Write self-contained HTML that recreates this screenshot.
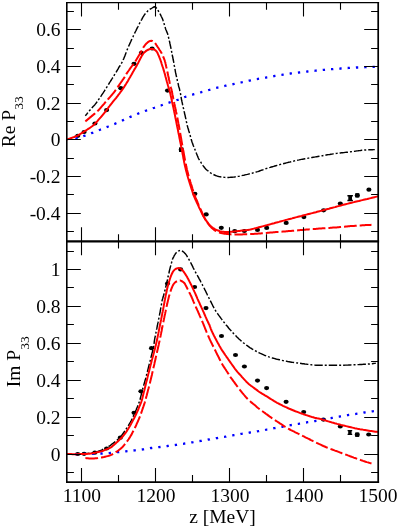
<!DOCTYPE html><html><head><meta charset="utf-8"><title>P33</title>
<style>html,body{margin:0;padding:0;background:#fff}svg{display:block}text{font-family:"Liberation Serif",serif;fill:#000}</style></head><body>
<svg width="399" height="527" viewBox="0 0 399 527">
<rect width="399" height="527" fill="#fff"/>
<defs><clipPath id="c1"><rect x="67.0" y="2.5" width="311.0" height="238.8"/></clipPath>
<clipPath id="c2"><rect x="67.0" y="241.3" width="311.0" height="240.7"/></clipPath></defs>
<g fill="#000" stroke="none">
<ellipse cx="77.8" cy="135.8" rx="2.55" ry="2.1"/>
<ellipse cx="84.1" cy="132.0" rx="2.55" ry="2.1"/>
<ellipse cx="94.9" cy="123.5" rx="2.55" ry="2.1"/>
<ellipse cx="106.6" cy="110.1" rx="2.55" ry="2.1"/>
<ellipse cx="120.8" cy="88.2" rx="2.55" ry="2.1"/>
<ellipse cx="134.0" cy="63.8" rx="2.55" ry="2.1"/>
<ellipse cx="141.4" cy="52.8" rx="2.55" ry="2.1"/>
<ellipse cx="152.1" cy="48.5" rx="2.55" ry="2.1"/>
<ellipse cx="167.5" cy="90.6" rx="2.55" ry="2.1"/>
<rect x="179.0" y="147.4" width="4.4" height="4.6"/>
<ellipse cx="181.2" cy="149.7" rx="2.55" ry="2.1"/>
<ellipse cx="194.9" cy="193.8" rx="2.55" ry="2.1"/>
<ellipse cx="206.2" cy="214.4" rx="2.55" ry="2.1"/>
<ellipse cx="221.3" cy="227.8" rx="2.55" ry="2.1"/>
<ellipse cx="234.7" cy="231.2" rx="2.55" ry="2.1"/>
<ellipse cx="244.4" cy="231.0" rx="2.55" ry="2.1"/>
<ellipse cx="257.5" cy="229.9" rx="2.55" ry="2.1"/>
<ellipse cx="266.7" cy="227.9" rx="2.55" ry="2.1"/>
<ellipse cx="286.2" cy="222.9" rx="2.55" ry="2.1"/>
<ellipse cx="303.9" cy="217.1" rx="2.55" ry="2.1"/>
<ellipse cx="323.6" cy="210.3" rx="2.55" ry="2.1"/>
<ellipse cx="340.3" cy="203.6" rx="2.55" ry="2.1"/>
<path d="M347.4 195.0h5.5v1.4h-0.9v3.4h0.9v1.4h-5.5v-1.4h0.9v-3.4h-0.9z"/>
<rect x="355.3" y="193.2" width="4.0" height="4.3"/>
<ellipse cx="357.3" cy="195.4" rx="2.55" ry="2.1"/>
<ellipse cx="368.9" cy="189.7" rx="2.55" ry="2.1"/>
</g>
<g clip-path="url(#c1)" fill="none" stroke-linejoin="round">
<path d="M75.4 138.8 L76.1 138.5 L76.8 138.2 L77.6 137.9 L78.3 137.7 L79.0 137.5 L79.8 137.2 L80.5 137.0 L81.3 136.8 L82.0 136.6 L82.8 136.4 L83.5 136.1 L84.2 135.8 L85.0 135.6 L85.7 135.3 L86.4 135.0 L87.2 134.8 L87.9 134.5 L88.6 134.2 L89.4 134.0 L90.1 133.7 L90.8 133.4 L91.5 133.1 L92.3 132.8 L93.0 132.6 L93.7 132.3 L94.4 132.0 L95.2 131.7 L95.9 131.4 L96.6 131.1 L97.3 130.9 L98.1 130.6 L98.8 130.3 L99.5 130.0 L100.2 129.7 L100.9 129.4 L101.7 129.1 L102.4 128.8 L103.1 128.6 L103.8 128.3 L104.6 128.0 L105.3 127.7 L106.0 127.4 L106.7 127.1 L107.4 126.8 L108.2 126.5 L108.9 126.2 L109.6 126.0 L110.3 125.7 L111.1 125.4 L111.8 125.1 L112.5 124.8 L113.2 124.5 L113.9 124.2 L114.7 123.9 L115.4 123.6 L116.1 123.3 L116.8 123.0 L117.5 122.7 L118.2 122.4 L118.9 122.1 L119.7 121.7 L120.4 121.4 L121.1 121.1 L121.8 120.8 L122.5 120.4 L123.2 120.1 L123.9 119.8 L124.6 119.4 L125.3 119.1 L126.0 118.8 L126.7 118.5 L127.4 118.1 L128.1 117.8 L128.8 117.5 L129.5 117.2 L130.3 116.9 L131.0 116.6 L131.7 116.3 L132.4 116.0 L133.1 115.7 L133.8 115.4 L134.6 115.1 L135.3 114.8 L136.0 114.5 L136.7 114.2 L137.4 113.9 L138.2 113.6 L138.9 113.3 L139.6 113.0 L140.3 112.7 L141.1 112.4 L141.8 112.2 L142.5 111.9 L143.2 111.6 L144.0 111.4 L144.7 111.1 L145.4 110.8 L146.2 110.6 L146.9 110.3 L147.6 110.1 L148.4 109.8 L149.1 109.6 L149.8 109.3 L150.6 109.1 L151.3 108.8 L152.1 108.5 L152.8 108.3 L153.5 108.0 L154.3 107.8 L155.0 107.5 L155.7 107.3 L156.5 107.0 L157.2 106.8 L157.9 106.5 L158.7 106.2 L159.4 106.0 L160.1 105.7 L160.9 105.5 L161.6 105.2 L162.3 105.0 L163.1 104.7 L163.8 104.4 L164.5 104.2 L165.3 103.9 L166.0 103.7 L166.7 103.4 L167.5 103.2 L168.2 102.9 L168.9 102.7 L169.7 102.4 L170.4 102.2 L171.2 101.9 L171.9 101.7 L172.6 101.4 L173.4 101.2 L174.1 101.0 L174.9 100.7 L175.6 100.5 L176.4 100.3 L177.1 100.0 L177.8 99.8 L178.6 99.5 L179.3 99.2 L180.0 99.0 L180.7 98.7 L181.4 98.4 L182.2 98.1 L182.9 97.8 L183.6 97.5 L184.3 97.2 L185.1 97.0 L185.8 96.7 L186.6 96.5 L187.3 96.2 L188.0 96.0 L188.8 95.8 L189.5 95.5 L190.3 95.3 L191.0 95.1 L191.8 94.9 L192.5 94.7 L193.3 94.4 L194.0 94.2 L194.7 94.0 L195.5 93.8 L196.2 93.6 L197.0 93.4 L197.7 93.1 L198.5 92.9 L199.2 92.7 L200.0 92.5 L200.7 92.3 L201.5 92.1 L202.2 91.9 L203.0 91.7 L203.7 91.4 L204.5 91.2 L205.2 91.0 L206.0 90.8 L206.7 90.6 L207.5 90.4 L208.2 90.2 L209.0 90.0 L209.7 89.8 L210.5 89.6 L211.2 89.4 L212.0 89.2 L212.7 89.0 L213.5 88.8 L214.2 88.5 L215.0 88.3 L215.7 88.1 L216.5 87.9 L217.2 87.7 L218.0 87.5 L218.7 87.4 L219.5 87.2 L220.2 87.0 L221.0 86.8 L221.8 86.6 L222.5 86.4 L223.3 86.2 L224.0 86.1 L224.8 85.9 L225.5 85.7 L226.3 85.6 L227.1 85.4 L227.8 85.3 L228.6 85.1 L229.4 84.9 L230.1 84.8 L230.9 84.6 L231.6 84.4 L232.4 84.3 L233.2 84.1 L233.9 84.0 L234.7 83.8 L235.4 83.6 L236.2 83.5 L237.0 83.3 L237.7 83.2 L238.5 83.0 L239.2 82.8 L240.0 82.7 L240.8 82.5 L241.5 82.3 L242.3 82.2 L243.0 82.0 L243.8 81.9 L244.6 81.7 L245.3 81.5 L246.1 81.4 L246.8 81.2 L247.6 81.0 L248.4 80.9 L249.1 80.7 L249.9 80.5 L250.6 80.4 L251.4 80.2 L252.2 80.0 L252.9 79.9 L253.7 79.7 L254.5 79.6 L255.2 79.4 L256.0 79.3 L256.7 79.1 L257.5 79.0 L258.3 78.8 L259.0 78.7 L259.8 78.6 L260.6 78.5 L261.3 78.3 L262.1 78.2 L262.9 78.1 L263.6 77.9 L264.4 77.8 L265.2 77.7 L266.0 77.6 L266.7 77.4 L267.5 77.3 L268.2 77.1 L269.0 77.0 L269.8 76.8 L270.5 76.7 L271.3 76.6 L272.1 76.4 L272.8 76.3 L273.6 76.2 L274.4 76.0 L275.1 75.9 L275.9 75.8 L276.7 75.7 L277.4 75.5 L278.2 75.4 L279.0 75.3 L279.7 75.2 L280.5 75.1 L281.3 74.9 L282.1 74.8 L282.8 74.7 L283.6 74.6 L284.4 74.5 L285.1 74.3 L285.9 74.2 L286.7 74.1 L287.4 74.0 L288.2 73.9 L289.0 73.7 L289.7 73.6 L290.5 73.5 L291.3 73.4 L292.1 73.3 L292.8 73.2 L293.6 73.1 L294.4 73.1 L295.1 73.0 L295.9 72.9 L296.7 72.8 L297.5 72.7 L298.2 72.6 L299.0 72.5 L299.8 72.4 L300.6 72.3 L301.3 72.2 L302.1 72.2 L302.9 72.1 L303.6 72.0 L304.4 71.9 L305.2 71.8 L306.0 71.7 L306.7 71.6 L307.5 71.5 L308.3 71.4 L309.1 71.3 L309.8 71.2 L310.6 71.2 L311.4 71.1 L312.1 71.0 L312.9 70.9 L313.7 70.8 L314.5 70.8 L315.2 70.7 L316.0 70.6 L316.8 70.5 L317.6 70.4 L318.3 70.4 L319.1 70.3 L319.9 70.2 L320.7 70.1 L321.4 70.1 L322.2 70.0 L323.0 69.9 L323.8 69.9 L324.5 69.8 L325.3 69.7 L326.1 69.6 L326.9 69.6 L327.6 69.5 L328.4 69.4 L329.2 69.4 L330.0 69.3 L330.7 69.2 L331.5 69.2 L332.3 69.1 L333.1 69.1 L333.8 69.0 L334.6 68.9 L335.4 68.9 L336.2 68.8 L336.9 68.8 L337.7 68.7 L338.5 68.7 L339.3 68.6 L340.0 68.6 L340.8 68.5 L341.6 68.4 L342.4 68.4 L343.1 68.3 L343.9 68.3 L344.7 68.2 L345.5 68.2 L346.2 68.1 L347.0 68.0 L347.8 68.0 L348.6 67.9 L349.4 67.9 L350.1 67.8 L350.9 67.8 L351.7 67.7 L352.5 67.7 L353.2 67.7 L354.0 67.6 L354.8 67.6 L355.6 67.6 L356.3 67.5 L357.1 67.5 L357.9 67.5 L358.7 67.5 L359.5 67.4 L360.2 67.4 L361.0 67.4 L361.8 67.3 L362.6 67.3 L363.3 67.3 L364.1 67.3 L364.9 67.2 L365.7 67.2 L366.5 67.2 L367.2 67.1 L368.0 67.1 L368.8 67.1 L369.6 67.0 L370.3 67.0 L371.1 67.0 L371.9 66.9 L372.7 66.9 L373.4 66.9 L374.2 66.8 L375.0 66.8" stroke="#00f" stroke-width="2.3" stroke-dasharray="2.3 6.035"/>
<path d="M85.4 115.8 L86.1 114.8 L86.9 113.9 L87.6 112.9 L88.4 112.0 L89.2 111.1 L89.9 110.2 L90.7 109.3 L91.5 108.4 L92.3 107.5 L93.1 106.6 L93.9 105.8 L94.7 104.9 L95.5 103.9 L96.2 103.0 L96.9 102.0 L97.6 101.0 L98.3 100.0 L98.9 99.1 L99.6 98.1 L100.3 97.1 L101.0 96.1 L101.6 95.1 L102.3 94.1 L103.0 93.1 L103.6 92.1 L104.3 91.1 L104.9 90.1 L105.6 89.1 L106.2 88.1 L106.8 87.1 L107.5 86.1 L108.1 85.1 L108.7 84.1 L109.4 83.0 L110.0 82.0 L110.6 81.0 L111.3 80.0 L111.9 79.0 L112.5 78.0 L113.2 77.0 L113.8 75.9 L114.4 74.9 L115.1 73.9 L115.7 72.9 L116.3 71.9 L116.9 70.8 L117.5 69.8 L118.1 68.8 L118.7 67.7 L119.3 66.7 L120.0 65.8 L120.7 64.7 L121.2 63.7 L121.8 62.7 L122.4 61.6 L122.9 60.5 L123.4 59.4 L123.9 58.3 L124.3 57.2 L124.8 56.1 L125.2 55.0 L125.6 53.9 L126.0 52.8 L126.4 51.6 L126.9 50.5 L127.3 49.4 L127.8 48.3 L128.3 47.2 L128.7 46.1 L129.2 45.0 L129.7 43.9 L130.2 42.8 L130.7 41.8 L131.1 40.7 L131.6 39.6 L132.1 38.5 L132.6 37.4 L133.2 36.3 L133.7 35.2 L134.2 34.2 L134.7 33.1 L135.2 32.0 L135.8 31.0 L136.3 29.9 L136.8 28.8 L137.4 27.7 L137.9 26.7 L138.4 25.6 L139.0 24.5 L139.5 23.5 L140.1 22.4 L140.6 21.4 L141.2 20.3 L141.8 19.3 L142.4 18.2 L142.9 17.2 L143.6 16.2 L144.2 15.2 L144.9 14.2 L145.7 13.3 L146.5 12.4 L147.3 11.5 L148.1 10.6 L149.1 9.9 L150.1 9.2 L151.1 8.6 L152.1 8.0 L153.2 7.3 L154.5 6.8 L155.5 7.0 L156.3 7.9 L157.1 8.9 L157.7 9.9 L158.3 10.9 L158.9 12.0 L159.5 13.0 L160.1 14.0 L160.7 15.1 L161.2 16.2 L161.7 17.2 L162.2 18.3 L162.7 19.4 L163.1 20.6 L163.5 21.7 L163.8 22.8 L164.2 24.0 L164.5 25.1 L164.8 26.3 L165.2 27.4 L165.5 28.5 L165.9 29.7 L166.4 30.8 L166.8 31.9 L167.3 33.0 L167.7 34.1 L168.0 35.3 L168.3 36.4 L168.6 37.6 L168.9 38.8 L169.2 39.9 L169.4 41.1 L169.7 42.2 L169.9 43.4 L170.2 44.6 L170.4 45.8 L170.7 46.9 L170.9 48.1 L171.2 49.3 L171.4 50.4 L171.6 51.6 L171.9 52.8 L172.1 53.9 L172.3 55.1 L172.5 56.3 L172.8 57.5 L173.0 58.6 L173.2 59.8 L173.5 61.0 L173.7 62.2 L173.9 63.3 L174.1 64.5 L174.3 65.7 L174.6 66.9 L174.8 68.0 L175.0 69.2 L175.2 70.4 L175.4 71.6 L175.6 72.7 L175.9 73.9 L176.1 75.1 L176.4 76.2 L176.6 77.4 L176.9 78.6 L177.2 79.7 L177.4 80.9 L177.7 82.1 L178.0 83.2 L178.3 84.4 L178.5 85.5 L178.8 86.7 L179.2 87.9 L179.5 89.0 L179.7 90.2 L180.0 91.3 L180.3 92.5 L180.5 93.7 L180.7 94.9 L180.9 96.0 L181.1 97.2 L181.3 98.4 L181.5 99.6 L181.8 100.7 L182.0 101.9 L182.3 103.1 L182.5 104.2 L182.8 105.4 L183.1 106.6 L183.3 107.7 L183.6 108.9 L183.9 110.1 L184.1 111.2 L184.4 112.4 L184.6 113.6 L184.9 114.7 L185.2 115.9 L185.4 117.1 L185.7 118.2 L185.9 119.4 L186.2 120.6 L186.4 121.7 L186.7 122.9 L187.0 124.1 L187.2 125.2 L187.5 126.4 L187.8 127.5 L188.2 128.7 L188.5 129.8 L188.8 131.0 L189.2 132.1 L189.5 133.3 L189.8 134.4 L190.2 135.6 L190.5 136.7 L190.8 137.9 L191.1 139.0 L191.5 140.2 L191.8 141.3 L192.2 142.5 L192.6 143.6 L193.0 144.7 L193.4 145.8 L193.9 146.9 L194.3 148.0 L194.8 149.1 L195.2 150.2 L195.6 151.4 L196.1 152.5 L196.5 153.6 L197.0 154.7 L197.4 155.8 L197.9 156.9 L198.3 158.0 L198.9 159.1 L199.5 160.1 L200.1 161.1 L200.8 162.1 L201.4 163.1 L202.1 164.1 L202.7 165.1 L203.4 166.1 L204.1 167.0 L204.9 168.0 L205.7 168.9 L206.5 169.7 L207.4 170.5 L208.4 171.2 L209.3 172.0 L210.3 172.7 L211.3 173.3 L212.4 173.9 L213.4 174.5 L214.5 175.0 L215.6 175.5 L216.7 175.9 L217.9 176.3 L219.0 176.6 L220.2 176.8 L221.4 177.1 L222.6 177.2 L223.7 177.3 L224.9 177.4 L226.1 177.5 L227.3 177.5 L228.5 177.5 L229.7 177.4 L230.9 177.3 L232.1 177.2 L233.3 177.1 L234.5 177.0 L235.7 176.8 L236.8 176.6 L238.0 176.4 L239.2 176.2 L240.4 175.9 L241.5 175.7 L242.7 175.4 L243.9 175.2 L245.0 174.9 L246.2 174.6 L247.4 174.4 L248.5 174.1 L249.7 173.8 L250.8 173.6 L252.0 173.3 L253.2 172.9 L254.3 172.6 L255.5 172.3 L256.6 171.9 L257.7 171.6 L258.9 171.2 L260.0 170.8 L261.1 170.4 L262.2 170.0 L263.4 169.6 L264.5 169.2 L265.6 168.8 L266.8 168.4 L267.9 168.1 L269.0 167.7 L270.2 167.4 L271.3 167.0 L272.5 166.7 L273.6 166.4 L274.8 166.0 L275.9 165.7 L277.1 165.4 L278.2 165.1 L279.4 164.7 L280.5 164.4 L281.7 164.1 L282.8 163.8 L284.0 163.5 L285.2 163.2 L286.3 162.9 L287.5 162.6 L288.6 162.3 L289.8 162.1 L291.0 161.8 L292.1 161.5 L293.3 161.2 L294.4 160.9 L295.6 160.6 L296.8 160.4 L297.9 160.1 L299.1 159.9 L300.3 159.6 L301.4 159.4 L302.6 159.2 L303.8 159.0 L305.0 158.8 L306.1 158.6 L307.3 158.4 L308.5 158.1 L309.7 157.9 L310.9 157.7 L312.0 157.5 L313.2 157.3 L314.4 157.1 L315.6 156.9 L316.7 156.7 L317.9 156.5 L319.1 156.3 L320.3 156.1 L321.4 155.9 L322.6 155.7 L323.8 155.5 L325.0 155.3 L326.2 155.0 L327.3 154.8 L328.5 154.6 L329.7 154.5 L330.9 154.3 L332.0 154.1 L333.2 153.9 L334.4 153.7 L335.6 153.6 L336.8 153.4 L338.0 153.3 L339.1 153.1 L340.3 153.0 L341.5 152.8 L342.7 152.7 L343.9 152.6 L345.1 152.4 L346.3 152.3 L347.5 152.2 L348.6 152.0 L349.8 151.9 L351.0 151.7 L352.2 151.6 L353.4 151.4 L354.6 151.3 L355.8 151.1 L356.9 150.9 L358.1 150.8 L359.3 150.6 L360.5 150.5 L361.7 150.3 L362.9 150.2 L364.1 150.1 L365.2 150.0 L366.4 149.9 L367.6 149.9 L368.8 149.8 L370.0 149.7 L371.2 149.7 L372.4 149.7 L373.6 149.6 L374.8 149.6" stroke="#000" stroke-width="1.45" stroke-dasharray="2 2 8.4 2" stroke-dashoffset="-6"/>
<path d="M85.4 121.4 L86.3 120.6 L87.2 119.9 L88.1 119.1 L89.0 118.4 L89.9 117.6 L90.8 116.9 L91.7 116.1 L92.6 115.4 L93.5 114.6 L94.4 113.9 L95.3 113.1 L96.2 112.4 L97.0 111.6 L97.9 110.8 L98.7 110.0 L99.5 109.1 L100.3 108.2 L101.0 107.3 L101.8 106.4 L102.5 105.5 L103.3 104.7 L104.1 103.8 L104.8 102.9 L105.6 102.0 L106.4 101.1 L107.2 100.3 L107.9 99.4 L108.7 98.5 L109.5 97.6 L110.2 96.8 L111.0 95.9 L111.8 95.0 L112.5 94.1 L113.3 93.2 L114.0 92.3 L114.7 91.4 L115.4 90.4 L116.1 89.5 L116.8 88.5 L117.4 87.5 L118.1 86.6 L118.7 85.6 L119.4 84.6 L120.0 83.7 L120.7 82.7 L121.4 81.7 L122.1 80.8 L122.7 79.8 L123.4 78.9 L124.1 77.9 L124.7 76.9 L125.3 75.9 L125.9 74.9 L126.4 73.9 L127.1 72.9 L127.7 71.9 L128.4 71.0 L129.1 70.0 L129.7 69.1 L130.4 68.1 L131.1 67.2 L131.8 66.2 L132.6 65.3 L133.3 64.4 L134.0 63.5 L134.6 62.5 L135.3 61.5 L135.9 60.5 L136.5 59.5 L137.1 58.5 L137.7 57.5 L138.3 56.5 L138.9 55.5 L139.5 54.5 L140.1 53.5 L140.7 52.5 L141.3 51.5 L141.8 50.4 L142.3 49.4 L142.8 48.3 L143.4 47.3 L144.1 46.4 L144.8 45.4 L145.5 44.5 L146.3 43.6 L147.1 42.9 L148.0 42.1 L149.1 41.4 L150.2 40.9 L151.3 40.7 L152.4 40.9 L153.5 41.5 L154.4 42.3 L155.1 43.2 L155.8 44.1 L156.4 45.1 L157.1 46.1 L157.7 47.1 L158.4 48.0 L159.0 49.0 L159.6 50.0 L160.3 51.0 L160.9 52.0 L161.5 53.0 L162.0 54.0 L162.5 55.1 L163.0 56.2 L163.4 57.3 L163.9 58.3 L164.3 59.4 L164.7 60.5 L165.0 61.6 L165.4 62.8 L165.6 63.9 L165.9 65.1 L166.1 66.2 L166.4 67.3 L166.6 68.5 L166.9 69.6 L167.1 70.8 L167.4 71.9 L167.6 73.1 L167.9 74.2 L168.1 75.3 L168.4 76.5 L168.6 77.6 L168.9 78.8 L169.1 79.9 L169.4 81.1 L169.6 82.2 L169.9 83.3 L170.2 84.5 L170.5 85.6 L170.8 86.7 L171.0 87.9 L171.3 89.0 L171.6 90.1 L171.8 91.3 L172.1 92.4 L172.3 93.6 L172.5 94.7 L172.8 95.9 L173.0 97.0 L173.2 98.2 L173.5 99.3 L173.7 100.4 L173.9 101.6 L174.2 102.7 L174.4 103.9 L174.7 105.0 L174.9 106.2 L175.2 107.3 L175.4 108.5 L175.6 109.6 L175.9 110.7 L176.1 111.9 L176.4 113.0 L176.6 114.2 L176.8 115.3 L177.1 116.5 L177.3 117.6 L177.5 118.8 L177.8 119.9 L178.0 121.1 L178.2 122.2 L178.4 123.4 L178.7 124.5 L178.9 125.7 L179.1 126.8 L179.3 128.0 L179.5 129.1 L179.7 130.3 L179.9 131.4 L180.1 132.6 L180.3 133.7 L180.5 134.9 L180.7 136.0 L180.9 137.2 L181.1 138.3 L181.3 139.5 L181.5 140.6 L181.7 141.8 L181.9 142.9 L182.1 144.1 L182.3 145.2 L182.5 146.4 L182.7 147.5 L182.9 148.7 L183.1 149.8 L183.4 151.0 L183.6 152.1 L183.8 153.3 L184.0 154.4 L184.2 155.6 L184.4 156.7 L184.6 157.9 L184.8 159.0 L185.0 160.2 L185.3 161.3 L185.5 162.5 L185.7 163.6 L185.9 164.8 L186.2 165.9 L186.4 167.1 L186.7 168.2 L186.9 169.4 L187.2 170.5 L187.5 171.6 L187.7 172.8 L188.0 173.9 L188.4 175.0 L188.7 176.1 L189.0 177.3 L189.3 178.4 L189.7 179.5 L190.0 180.6 L190.3 181.8 L190.7 182.9 L191.0 184.0 L191.4 185.1 L191.7 186.2 L192.1 187.3 L192.4 188.5 L192.8 189.6 L193.1 190.7 L193.5 191.8 L193.8 192.9 L194.2 194.0 L194.6 195.1 L195.0 196.2 L195.4 197.3 L195.9 198.4 L196.3 199.5 L196.8 200.5 L197.3 201.6 L197.7 202.7 L198.2 203.8 L198.6 204.8 L199.1 205.9 L199.6 207.0 L200.0 208.1 L200.5 209.1 L201.0 210.2 L201.4 211.3 L201.9 212.3 L202.4 213.4 L202.9 214.5 L203.3 215.6 L203.8 216.6 L204.4 217.6 L204.9 218.7 L205.5 219.7 L206.2 220.7 L206.8 221.6 L207.5 222.6 L208.1 223.6 L208.8 224.5 L209.5 225.5 L210.3 226.3 L211.1 227.2 L211.9 228.0 L212.8 228.8 L213.7 229.6 L214.7 230.3 L215.7 230.9 L216.7 231.4 L217.8 231.9 L218.9 232.3 L220.0 232.7 L221.1 233.0 L222.3 233.3 L223.4 233.5 L224.6 233.7 L225.7 233.8 L226.9 234.0 L228.0 234.1 L229.2 234.2 L230.4 234.3 L231.5 234.4 L232.7 234.5 L233.9 234.6 L235.0 234.6 L236.2 234.6 L237.4 234.5 L238.5 234.5 L239.7 234.5 L240.9 234.4 L242.1 234.4 L243.2 234.3 L244.4 234.3 L245.6 234.2 L246.7 234.2 L247.9 234.2 L249.1 234.1 L250.2 234.1 L251.4 234.0 L252.6 234.0 L253.7 233.9 L254.9 233.8 L256.1 233.8 L257.2 233.7 L258.4 233.6 L259.6 233.5 L260.7 233.4 L261.9 233.3 L263.1 233.2 L264.2 233.1 L265.4 233.0 L266.6 232.9 L267.7 232.8 L268.9 232.7 L270.1 232.6 L271.2 232.5 L272.4 232.4 L273.6 232.3 L274.7 232.2 L275.9 232.1 L277.1 232.0 L278.2 231.9 L279.4 231.9 L280.6 231.8 L281.7 231.7 L282.9 231.6 L284.0 231.5 L285.2 231.4 L286.4 231.3 L287.5 231.2 L288.7 231.1 L289.9 231.0 L291.0 230.9 L292.2 230.8 L293.4 230.7 L294.5 230.6 L295.7 230.5 L296.9 230.4 L298.0 230.3 L299.2 230.2 L300.4 230.1 L301.5 230.0 L302.7 229.9 L303.9 229.8 L305.0 229.7 L306.2 229.6 L307.4 229.5 L308.5 229.4 L309.7 229.3 L310.9 229.2 L312.0 229.1 L313.2 229.1 L314.3 229.0 L315.5 228.9 L316.7 228.8 L317.8 228.7 L319.0 228.6 L320.2 228.5 L321.3 228.4 L322.5 228.3 L323.7 228.3 L324.8 228.2 L326.0 228.1 L327.2 228.0 L328.3 227.9 L329.5 227.9 L330.7 227.8 L331.8 227.7 L333.0 227.6 L334.2 227.5 L335.3 227.4 L336.5 227.4 L337.7 227.3 L338.8 227.2 L340.0 227.1 L341.2 227.0 L342.3 226.9 L343.5 226.8 L344.7 226.7 L345.8 226.5 L347.0 226.4 L348.2 226.3 L349.3 226.2 L350.5 226.1 L351.7 226.0 L352.8 226.0 L354.0 225.9 L355.2 225.8 L356.3 225.7 L357.5 225.6 L358.7 225.5 L359.8 225.5 L361.0 225.4 L362.2 225.3 L363.3 225.2 L364.5 225.2 L365.7 225.1 L366.8 225.0 L368.0 225.0 L369.2 224.9 L370.3 224.9 L371.5 224.8" stroke="#f00" stroke-width="2.0" stroke-dasharray="12.7 3.0"/>
<path d="M66.0 139.7 L67.2 139.3 L68.4 139.0 L69.5 138.6 L70.7 138.2 L71.9 137.8 L73.0 137.4 L74.2 137.0 L75.3 136.5 L76.5 136.1 L77.6 135.6 L78.7 135.0 L79.7 134.3 L80.8 133.7 L81.8 133.0 L82.9 132.4 L83.9 131.7 L84.9 131.0 L86.0 130.4 L87.0 129.7 L88.0 129.0 L89.1 128.4 L90.1 127.7 L91.1 127.0 L92.1 126.3 L93.1 125.5 L94.0 124.7 L94.9 123.8 L95.7 122.9 L96.6 122.0 L97.4 121.1 L98.2 120.1 L99.0 119.2 L99.8 118.3 L100.7 117.4 L101.5 116.4 L102.3 115.5 L103.0 114.6 L103.8 113.6 L104.6 112.6 L105.4 111.7 L106.1 110.7 L106.9 109.7 L107.6 108.7 L108.3 107.7 L109.1 106.7 L109.8 105.7 L110.5 104.8 L111.3 103.8 L112.1 102.8 L112.8 101.9 L113.6 100.9 L114.4 100.0 L115.2 99.0 L116.0 98.1 L116.7 97.1 L117.5 96.1 L118.2 95.1 L119.0 94.2 L119.7 93.2 L120.4 92.2 L121.2 91.2 L121.9 90.2 L122.6 89.2 L123.3 88.2 L124.0 87.1 L124.7 86.1 L125.3 85.1 L126.0 84.0 L126.6 83.0 L127.3 81.9 L127.9 80.9 L128.5 79.8 L129.1 78.7 L129.7 77.7 L130.4 76.6 L131.0 75.5 L131.6 74.5 L132.2 73.4 L132.8 72.3 L133.4 71.3 L134.0 70.2 L134.6 69.1 L135.3 68.1 L135.9 67.0 L136.5 65.9 L137.1 64.8 L137.7 63.8 L138.3 62.7 L138.8 61.6 L139.4 60.5 L139.9 59.4 L140.5 58.3 L141.1 57.2 L141.7 56.1 L142.3 55.1 L143.0 54.0 L143.7 53.0 L144.6 52.2 L145.5 51.4 L146.5 50.6 L147.6 50.0 L148.7 49.5 L149.9 49.1 L151.2 49.0 L152.4 49.0 L153.6 49.3 L154.7 49.8 L155.8 50.6 L156.6 51.5 L157.3 52.5 L157.8 53.7 L158.3 54.8 L158.8 55.9 L159.3 57.1 L159.7 58.2 L160.2 59.4 L160.6 60.5 L161.0 61.7 L161.4 62.8 L161.7 64.0 L162.1 65.2 L162.5 66.4 L162.9 67.5 L163.3 68.7 L163.6 69.9 L164.0 71.1 L164.3 72.2 L164.7 73.4 L165.0 74.6 L165.3 75.8 L165.6 77.0 L166.0 78.2 L166.3 79.4 L166.6 80.6 L166.9 81.7 L167.3 82.9 L167.6 84.1 L167.9 85.3 L168.3 86.5 L168.6 87.7 L169.0 88.8 L169.3 90.0 L169.7 91.2 L170.0 92.4 L170.3 93.6 L170.6 94.8 L170.8 96.0 L171.1 97.2 L171.4 98.4 L171.6 99.6 L171.9 100.8 L172.1 102.0 L172.4 103.2 L172.7 104.4 L172.9 105.6 L173.2 106.8 L173.5 108.0 L173.7 109.2 L174.0 110.5 L174.2 111.7 L174.5 112.9 L174.7 114.1 L175.0 115.3 L175.2 116.5 L175.4 117.7 L175.7 118.9 L175.9 120.1 L176.2 121.3 L176.4 122.5 L176.6 123.7 L176.9 124.9 L177.1 126.2 L177.4 127.4 L177.6 128.6 L177.9 129.8 L178.1 131.0 L178.3 132.2 L178.6 133.4 L178.8 134.6 L179.1 135.8 L179.3 137.0 L179.5 138.2 L179.8 139.4 L180.0 140.7 L180.3 141.9 L180.5 143.1 L180.8 144.3 L181.0 145.5 L181.2 146.7 L181.5 147.9 L181.7 149.1 L182.0 150.3 L182.2 151.5 L182.4 152.7 L182.6 154.0 L182.9 155.2 L183.1 156.4 L183.3 157.6 L183.5 158.8 L183.8 160.0 L184.0 161.2 L184.2 162.4 L184.5 163.6 L184.7 164.8 L185.0 166.0 L185.3 167.2 L185.6 168.4 L185.8 169.6 L186.1 170.8 L186.5 172.0 L186.8 173.2 L187.1 174.4 L187.4 175.6 L187.8 176.8 L188.1 178.0 L188.5 179.1 L188.8 180.3 L189.2 181.5 L189.6 182.7 L189.9 183.8 L190.3 185.0 L190.7 186.2 L191.1 187.4 L191.4 188.5 L191.8 189.7 L192.2 190.9 L192.6 192.1 L192.9 193.2 L193.3 194.4 L193.7 195.6 L194.2 196.7 L194.7 197.9 L195.2 199.0 L195.7 200.1 L196.2 201.2 L196.7 202.3 L197.2 203.4 L197.8 204.6 L198.3 205.7 L198.8 206.8 L199.3 207.9 L199.9 209.0 L200.4 210.1 L200.9 211.2 L201.5 212.4 L202.0 213.5 L202.5 214.6 L203.1 215.7 L203.7 216.7 L204.3 217.8 L205.0 218.8 L205.7 219.9 L206.4 220.9 L207.1 221.9 L207.8 222.9 L208.6 223.9 L209.4 224.8 L210.2 225.7 L211.2 226.5 L212.1 227.3 L213.1 228.1 L214.2 228.7 L215.2 229.3 L216.4 229.8 L217.5 230.3 L218.7 230.7 L219.8 231.1 L221.0 231.4 L222.2 231.7 L223.5 231.8 L224.7 232.0 L225.9 232.0 L227.2 232.1 L228.4 232.0 L229.6 231.9 L230.8 231.8 L232.1 231.7 L233.3 231.6 L234.5 231.4 L235.7 231.3 L237.0 231.2 L238.2 231.0 L239.4 230.9 L240.6 230.7 L241.9 230.6 L243.1 230.5 L244.3 230.4 L245.5 230.2 L246.8 230.1 L248.0 229.9 L249.2 229.7 L250.4 229.5 L251.6 229.2 L252.8 228.9 L254.0 228.6 L255.2 228.3 L256.4 228.0 L257.6 227.6 L258.8 227.3 L260.0 227.0 L261.2 226.7 L262.4 226.4 L263.5 226.1 L264.7 225.8 L265.9 225.4 L267.1 225.1 L268.3 224.8 L269.5 224.5 L270.7 224.1 L271.9 223.8 L273.0 223.5 L274.2 223.2 L275.4 222.8 L276.6 222.5 L277.8 222.2 L279.0 221.9 L280.2 221.5 L281.4 221.2 L282.6 220.9 L283.7 220.6 L284.9 220.3 L286.1 219.9 L287.3 219.6 L288.5 219.3 L289.7 219.0 L290.9 218.7 L292.1 218.4 L293.3 218.0 L294.5 217.7 L295.7 217.4 L296.8 217.1 L298.0 216.8 L299.2 216.5 L300.4 216.2 L301.6 215.9 L302.8 215.5 L304.0 215.2 L305.2 214.9 L306.4 214.6 L307.6 214.3 L308.8 214.0 L310.0 213.7 L311.2 213.4 L312.4 213.1 L313.5 212.8 L314.7 212.5 L315.9 212.2 L317.1 211.8 L318.3 211.5 L319.5 211.2 L320.7 210.9 L321.9 210.6 L323.1 210.3 L324.3 209.9 L325.5 209.6 L326.6 209.3 L327.8 209.0 L329.0 208.7 L330.2 208.3 L331.4 208.0 L332.6 207.7 L333.8 207.4 L335.0 207.1 L336.2 206.7 L337.4 206.4 L338.5 206.1 L339.7 205.8 L340.9 205.5 L342.1 205.1 L343.3 204.8 L344.5 204.5 L345.7 204.2 L346.9 203.9 L348.1 203.6 L349.3 203.3 L350.5 203.0 L351.7 202.7 L352.9 202.4 L354.1 202.1 L355.2 201.8 L356.4 201.5 L357.6 201.2 L358.8 201.0 L360.0 200.7 L361.2 200.4 L362.4 200.1 L363.6 199.8 L364.8 199.5 L366.0 199.2 L367.2 199.0 L368.4 198.7 L369.6 198.4 L370.8 198.1 L372.0 197.8 L373.2 197.5 L374.4 197.2 L375.6 196.9 L376.8 196.6 L378.0 196.3" stroke="#f00" stroke-width="2.0"/>
</g>
<g fill="#000" stroke="none">
<ellipse cx="77.7" cy="454.0" rx="2.55" ry="2.1"/>
<ellipse cx="84.1" cy="453.8" rx="2.55" ry="2.1"/>
<ellipse cx="94.8" cy="452.7" rx="2.55" ry="2.1"/>
<ellipse cx="106.6" cy="448.5" rx="2.55" ry="2.1"/>
<ellipse cx="120.3" cy="437.7" rx="2.55" ry="2.1"/>
<ellipse cx="134.0" cy="412.8" rx="2.55" ry="2.1"/>
<ellipse cx="140.9" cy="391.3" rx="2.55" ry="2.1"/>
<ellipse cx="151.5" cy="348.2" rx="2.55" ry="2.1"/>
<ellipse cx="167.5" cy="283.5" rx="2.55" ry="2.1"/>
<ellipse cx="180.6" cy="269.4" rx="2.55" ry="2.1"/>
<ellipse cx="194.6" cy="287.0" rx="2.55" ry="2.1"/>
<ellipse cx="206.0" cy="308.1" rx="2.55" ry="2.1"/>
<ellipse cx="221.5" cy="336.0" rx="2.55" ry="2.1"/>
<ellipse cx="235.5" cy="355.0" rx="2.55" ry="2.1"/>
<ellipse cx="244.4" cy="366.5" rx="2.55" ry="2.1"/>
<ellipse cx="257.5" cy="380.6" rx="2.55" ry="2.1"/>
<ellipse cx="266.6" cy="388.1" rx="2.55" ry="2.1"/>
<ellipse cx="286.1" cy="401.8" rx="2.55" ry="2.1"/>
<ellipse cx="303.7" cy="412.0" rx="2.55" ry="2.1"/>
<ellipse cx="323.4" cy="419.6" rx="2.55" ry="2.1"/>
<ellipse cx="340.3" cy="426.5" rx="2.55" ry="2.1"/>
<path d="M347.6 429.9h4.6v1.4h-0.6v2.4h0.6v1.4h-4.6v-1.4h0.6v-2.4h-0.6z"/>
<rect x="355.2" y="432.5" width="4.0" height="4.4"/>
<ellipse cx="357.2" cy="434.7" rx="2.55" ry="2.1"/>
<ellipse cx="368.7" cy="434.5" rx="2.55" ry="2.1"/>
</g>
<g clip-path="url(#c2)" fill="none" stroke-linejoin="round">
<path d="M75.4 454.1 L76.2 454.1 L76.9 454.1 L77.7 454.1 L78.4 454.1 L79.2 454.0 L80.0 454.0 L80.7 454.0 L81.5 454.0 L82.2 454.0 L83.0 454.0 L83.8 454.0 L84.5 453.9 L85.3 453.9 L86.0 453.9 L86.8 453.9 L87.5 453.9 L88.3 453.9 L89.1 453.8 L89.8 453.8 L90.6 453.8 L91.3 453.8 L92.1 453.8 L92.9 453.8 L93.6 453.7 L94.4 453.7 L95.1 453.7 L95.9 453.7 L96.7 453.6 L97.4 453.6 L98.2 453.6 L98.9 453.6 L99.7 453.5 L100.5 453.5 L101.2 453.5 L102.0 453.5 L102.7 453.4 L103.5 453.4 L104.2 453.4 L105.0 453.4 L105.8 453.3 L106.5 453.3 L107.3 453.2 L108.0 453.2 L108.8 453.1 L109.6 453.1 L110.3 453.0 L111.1 452.9 L111.8 452.8 L112.6 452.7 L113.3 452.6 L114.1 452.6 L114.8 452.5 L115.6 452.4 L116.3 452.3 L117.1 452.2 L117.9 452.1 L118.6 452.1 L119.4 452.0 L120.1 451.9 L120.9 451.8 L121.6 451.7 L122.4 451.7 L123.1 451.6 L123.9 451.5 L124.7 451.4 L125.4 451.3 L126.2 451.3 L126.9 451.2 L127.7 451.1 L128.4 451.0 L129.2 451.0 L129.9 450.9 L130.7 450.8 L131.5 450.7 L132.2 450.6 L133.0 450.6 L133.7 450.5 L134.5 450.4 L135.2 450.3 L136.0 450.2 L136.7 450.1 L137.5 450.0 L138.2 450.0 L139.0 449.9 L139.8 449.8 L140.5 449.7 L141.3 449.6 L142.0 449.5 L142.8 449.4 L143.5 449.3 L144.3 449.1 L145.0 449.0 L145.8 448.9 L146.5 448.8 L147.3 448.6 L148.0 448.5 L148.8 448.4 L149.5 448.3 L150.3 448.1 L151.0 448.0 L151.8 448.0 L152.5 447.9 L153.3 447.8 L154.0 447.7 L154.8 447.6 L155.5 447.5 L156.3 447.4 L157.0 447.3 L157.8 447.2 L158.6 447.1 L159.3 447.1 L160.1 447.0 L160.8 446.9 L161.6 446.8 L162.3 446.7 L163.1 446.6 L163.8 446.5 L164.6 446.4 L165.3 446.3 L166.1 446.2 L166.8 446.1 L167.6 446.0 L168.3 445.9 L169.1 445.8 L169.9 445.7 L170.6 445.6 L171.4 445.5 L172.1 445.4 L172.9 445.3 L173.6 445.2 L174.4 445.1 L175.1 445.0 L175.9 444.9 L176.6 444.8 L177.4 444.7 L178.1 444.6 L178.9 444.5 L179.6 444.4 L180.4 444.2 L181.1 444.1 L181.9 444.0 L182.6 443.9 L183.4 443.8 L184.1 443.6 L184.9 443.5 L185.6 443.4 L186.4 443.3 L187.1 443.2 L187.9 443.0 L188.6 442.9 L189.4 442.8 L190.1 442.7 L190.9 442.5 L191.6 442.4 L192.4 442.3 L193.1 442.2 L193.9 442.0 L194.6 441.9 L195.4 441.8 L196.1 441.7 L196.9 441.5 L197.6 441.4 L198.4 441.3 L199.1 441.1 L199.9 441.0 L200.6 440.9 L201.4 440.8 L202.1 440.6 L202.9 440.5 L203.6 440.4 L204.4 440.3 L205.1 440.1 L205.9 440.0 L206.6 439.9 L207.4 439.8 L208.1 439.6 L208.8 439.5 L209.6 439.4 L210.3 439.2 L211.1 439.1 L211.8 439.0 L212.6 438.9 L213.3 438.7 L214.1 438.6 L214.8 438.5 L215.6 438.4 L216.3 438.2 L217.1 438.1 L217.8 438.0 L218.6 437.8 L219.3 437.7 L220.1 437.6 L220.8 437.5 L221.6 437.3 L222.3 437.2 L223.1 437.1 L223.8 436.9 L224.6 436.8 L225.3 436.7 L226.1 436.6 L226.8 436.4 L227.6 436.3 L228.3 436.2 L229.1 436.0 L229.8 435.9 L230.6 435.8 L231.3 435.6 L232.1 435.5 L232.8 435.4 L233.5 435.2 L234.3 435.1 L235.0 435.0 L235.8 434.8 L236.5 434.7 L237.3 434.6 L238.0 434.5 L238.8 434.3 L239.5 434.2 L240.3 434.1 L241.0 433.9 L241.8 433.8 L242.5 433.7 L243.3 433.6 L244.0 433.4 L244.8 433.3 L245.5 433.2 L246.3 433.1 L247.0 433.0 L247.8 432.9 L248.5 432.8 L249.3 432.6 L250.0 432.5 L250.8 432.4 L251.5 432.3 L252.3 432.2 L253.0 432.1 L253.8 432.0 L254.5 431.8 L255.3 431.7 L256.0 431.6 L256.8 431.5 L257.5 431.3 L258.3 431.2 L259.0 431.1 L259.8 430.9 L260.5 430.8 L261.3 430.7 L262.0 430.5 L262.8 430.4 L263.5 430.2 L264.3 430.1 L265.0 430.0 L265.7 429.8 L266.5 429.7 L267.2 429.5 L268.0 429.4 L268.7 429.2 L269.5 429.1 L270.2 429.0 L271.0 428.8 L271.7 428.7 L272.5 428.5 L273.2 428.4 L274.0 428.2 L274.7 428.1 L275.4 428.0 L276.2 427.8 L276.9 427.7 L277.7 427.6 L278.4 427.4 L279.2 427.3 L279.9 427.2 L280.7 427.0 L281.4 426.9 L282.2 426.8 L282.9 426.6 L283.7 426.5 L284.4 426.3 L285.2 426.2 L285.9 426.1 L286.7 425.9 L287.4 425.8 L288.1 425.7 L288.9 425.5 L289.6 425.4 L290.4 425.2 L291.1 425.1 L291.9 425.0 L292.6 424.8 L293.4 424.7 L294.1 424.6 L294.9 424.5 L295.6 424.3 L296.4 424.2 L297.1 424.1 L297.9 424.0 L298.6 423.8 L299.4 423.7 L300.1 423.6 L300.9 423.5 L301.6 423.3 L302.4 423.2 L303.1 423.0 L303.9 422.9 L304.6 422.8 L305.3 422.6 L306.1 422.5 L306.8 422.4 L307.6 422.2 L308.3 422.1 L309.1 422.0 L309.8 421.9 L310.6 421.8 L311.3 421.7 L312.1 421.6 L312.8 421.5 L313.6 421.3 L314.3 421.2 L315.1 421.1 L315.8 420.9 L316.6 420.8 L317.3 420.7 L318.1 420.5 L318.8 420.4 L319.6 420.3 L320.3 420.1 L321.1 420.0 L321.8 419.8 L322.6 419.7 L323.3 419.6 L324.1 419.4 L324.8 419.3 L325.5 419.1 L326.3 419.0 L327.0 418.9 L327.8 418.7 L328.5 418.6 L329.3 418.4 L330.0 418.3 L330.8 418.2 L331.5 418.0 L332.3 417.9 L333.0 417.8 L333.8 417.6 L334.5 417.5 L335.3 417.4 L336.0 417.2 L336.8 417.1 L337.5 417.0 L338.2 416.8 L339.0 416.7 L339.7 416.5 L340.5 416.4 L341.2 416.3 L342.0 416.1 L342.7 416.0 L343.5 415.9 L344.2 415.7 L345.0 415.6 L345.7 415.5 L346.5 415.3 L347.2 415.2 L348.0 415.1 L348.7 414.9 L349.5 414.8 L350.2 414.7 L351.0 414.6 L351.7 414.5 L352.5 414.4 L353.2 414.3 L354.0 414.2 L354.7 414.1 L355.5 414.0 L356.2 413.8 L357.0 413.7 L357.7 413.6 L358.5 413.5 L359.2 413.4 L360.0 413.2 L360.7 413.1 L361.5 413.0 L362.2 412.9 L363.0 412.8 L363.7 412.6 L364.5 412.5 L365.2 412.4 L366.0 412.3 L366.7 412.2 L367.5 412.1 L368.2 412.0 L369.0 411.9 L369.7 411.8 L370.5 411.6 L371.2 411.5 L372.0 411.4 L372.7 411.3 L373.5 411.2 L374.2 411.1 L375.0 411.0" stroke="#00f" stroke-width="2.3" stroke-dasharray="2.3 6.035"/>
<path d="M85.4 453.6 L86.6 453.5 L87.8 453.4 L89.1 453.2 L90.3 453.1 L91.5 452.9 L92.7 452.7 L93.9 452.5 L95.1 452.3 L96.3 452.0 L97.5 451.7 L98.6 451.2 L99.8 450.8 L100.9 450.3 L102.0 449.8 L103.1 449.2 L104.2 448.7 L105.3 448.2 L106.4 447.6 L107.5 447.1 L108.6 446.5 L109.7 445.9 L110.6 445.2 L111.6 444.4 L112.6 443.7 L113.6 442.9 L114.5 442.2 L115.5 441.5 L116.5 440.7 L117.4 439.9 L118.3 439.1 L119.2 438.3 L120.1 437.4 L120.9 436.5 L121.7 435.5 L122.4 434.5 L123.1 433.5 L123.8 432.5 L124.5 431.5 L125.2 430.5 L125.8 429.4 L126.5 428.4 L127.1 427.4 L127.8 426.3 L128.5 425.3 L129.1 424.3 L129.8 423.2 L130.4 422.2 L131.0 421.1 L131.5 420.0 L132.1 418.9 L132.6 417.8 L133.1 416.7 L133.6 415.6 L134.1 414.5 L134.6 413.4 L135.1 412.2 L135.6 411.1 L136.1 410.0 L136.5 408.8 L137.0 407.7 L137.5 406.6 L137.9 405.4 L138.4 404.3 L138.8 403.2 L139.2 402.0 L139.6 400.8 L140.0 399.7 L140.3 398.5 L140.6 397.3 L140.9 396.1 L141.2 394.9 L141.5 393.7 L141.8 392.6 L142.1 391.4 L142.4 390.2 L142.7 389.0 L143.0 387.8 L143.3 386.6 L143.7 385.4 L144.0 384.3 L144.4 383.1 L144.7 381.9 L145.0 380.7 L145.4 379.6 L145.7 378.4 L146.0 377.2 L146.3 376.0 L146.6 374.8 L146.9 373.6 L147.2 372.4 L147.5 371.3 L147.8 370.1 L148.1 368.9 L148.4 367.7 L148.7 366.5 L149.0 365.3 L149.3 364.1 L149.6 362.9 L149.9 361.8 L150.2 360.6 L150.5 359.4 L150.8 358.2 L151.1 357.0 L151.4 355.8 L151.7 354.6 L152.0 353.4 L152.3 352.3 L152.7 351.1 L153.0 349.9 L153.3 348.7 L153.5 347.5 L153.7 346.3 L153.9 345.1 L154.0 343.9 L154.2 342.7 L154.3 341.4 L154.5 340.2 L154.7 339.0 L154.9 337.8 L155.2 336.6 L155.4 335.4 L155.7 334.2 L155.9 333.0 L156.1 331.8 L156.4 330.6 L156.6 329.4 L156.9 328.2 L157.1 327.0 L157.3 325.8 L157.6 324.6 L157.8 323.4 L158.1 322.2 L158.3 321.0 L158.5 319.8 L158.8 318.6 L159.0 317.4 L159.3 316.2 L159.5 315.0 L159.7 313.8 L160.0 312.6 L160.2 311.4 L160.4 310.2 L160.6 309.0 L160.8 307.8 L161.0 306.6 L161.3 305.4 L161.5 304.2 L161.7 303.0 L161.9 301.7 L162.1 300.5 L162.4 299.4 L162.8 298.2 L163.1 297.0 L163.5 295.8 L163.8 294.7 L164.1 293.5 L164.4 292.3 L164.8 291.1 L165.1 289.9 L165.4 288.7 L165.6 287.5 L165.9 286.4 L166.2 285.2 L166.5 284.0 L166.8 282.8 L167.0 281.6 L167.3 280.4 L167.6 279.2 L167.8 278.0 L168.1 276.8 L168.3 275.6 L168.6 274.4 L168.9 273.2 L169.2 272.0 L169.4 270.8 L169.7 269.6 L170.0 268.4 L170.3 267.3 L170.6 266.1 L170.9 264.9 L171.2 263.7 L171.6 262.5 L171.9 261.3 L172.2 260.2 L172.6 259.0 L173.1 257.9 L173.7 256.8 L174.2 255.7 L174.9 254.6 L175.5 253.6 L176.3 252.7 L177.3 251.9 L178.3 251.1 L179.5 250.6 L180.7 250.5 L181.8 250.9 L182.9 251.5 L183.9 252.3 L184.8 253.2 L185.6 254.1 L186.4 255.1 L187.0 256.1 L187.6 257.2 L188.3 258.2 L188.9 259.3 L189.4 260.4 L190.0 261.4 L190.6 262.5 L191.2 263.6 L191.7 264.7 L192.3 265.8 L192.8 266.9 L193.3 268.0 L193.9 269.1 L194.4 270.2 L195.0 271.3 L195.6 272.3 L196.2 273.4 L196.8 274.5 L197.4 275.5 L198.0 276.6 L198.6 277.7 L199.2 278.8 L199.8 279.8 L200.4 280.9 L200.9 282.0 L201.5 283.1 L202.1 284.2 L202.6 285.3 L203.2 286.3 L203.7 287.4 L204.3 288.5 L204.8 289.6 L205.4 290.7 L205.9 291.8 L206.4 292.9 L207.0 294.0 L207.5 295.1 L208.1 296.2 L208.6 297.3 L209.2 298.4 L209.7 299.5 L210.3 300.6 L210.8 301.7 L211.4 302.8 L211.9 303.9 L212.5 305.0 L213.0 306.1 L213.6 307.2 L214.1 308.2 L214.7 309.3 L215.4 310.4 L216.0 311.4 L216.7 312.4 L217.4 313.4 L218.1 314.4 L218.8 315.4 L219.6 316.4 L220.3 317.4 L221.0 318.4 L221.8 319.4 L222.5 320.3 L223.2 321.3 L224.0 322.3 L224.7 323.2 L225.5 324.2 L226.3 325.2 L227.1 326.1 L227.9 327.0 L228.6 328.0 L229.4 328.9 L230.2 329.8 L231.1 330.7 L231.9 331.7 L232.7 332.6 L233.5 333.5 L234.4 334.4 L235.2 335.2 L236.1 336.1 L236.9 337.0 L237.8 337.8 L238.7 338.7 L239.6 339.5 L240.5 340.3 L241.4 341.1 L242.4 341.9 L243.3 342.7 L244.3 343.5 L245.2 344.3 L246.2 345.0 L247.2 345.7 L248.2 346.4 L249.2 347.1 L250.2 347.8 L251.3 348.4 L252.3 349.1 L253.4 349.7 L254.4 350.3 L255.5 350.9 L256.6 351.5 L257.7 352.1 L258.7 352.6 L259.8 353.2 L261.0 353.7 L262.1 354.2 L263.2 354.7 L264.3 355.2 L265.4 355.6 L266.6 356.1 L267.8 356.5 L268.9 356.9 L270.1 357.2 L271.3 357.6 L272.4 358.0 L273.6 358.3 L274.8 358.6 L276.0 359.0 L277.2 359.3 L278.3 359.5 L279.5 359.8 L280.7 360.1 L281.9 360.4 L283.1 360.6 L284.3 360.9 L285.5 361.1 L286.7 361.3 L287.9 361.6 L289.1 361.8 L290.3 362.0 L291.6 362.2 L292.8 362.4 L294.0 362.5 L295.2 362.7 L296.4 362.9 L297.6 363.0 L298.8 363.2 L300.0 363.3 L301.3 363.5 L302.5 363.7 L303.7 363.8 L304.9 364.0 L306.1 364.1 L307.3 364.3 L308.5 364.4 L309.8 364.6 L311.0 364.7 L312.2 364.9 L313.4 365.0 L314.6 365.1 L315.9 365.2 L317.1 365.2 L318.3 365.2 L319.5 365.3 L320.8 365.3 L322.0 365.3 L323.2 365.3 L324.4 365.3 L325.7 365.3 L326.9 365.3 L328.1 365.3 L329.3 365.3 L330.6 365.3 L331.8 365.3 L333.0 365.3 L334.2 365.3 L335.5 365.3 L336.7 365.3 L337.9 365.3 L339.1 365.3 L340.4 365.2 L341.6 365.2 L342.8 365.2 L344.0 365.2 L345.3 365.1 L346.5 365.1 L347.7 365.1 L348.9 365.0 L350.2 365.0 L351.4 364.9 L352.6 364.8 L353.8 364.8 L355.0 364.7 L356.3 364.7 L357.5 364.6 L358.7 364.6 L359.9 364.5 L361.2 364.4 L362.4 364.4 L363.6 364.3 L364.8 364.2 L366.1 364.2 L367.3 364.1 L368.5 364.0 L369.7 364.0 L370.9 363.8 L372.2 363.7 L373.4 363.5 L374.6 363.4 L375.8 363.2" stroke="#000" stroke-width="1.45" stroke-dasharray="2 2 8.4 2" stroke-dashoffset="-6.1"/>
<path d="M85.4 458.1 L86.7 458.2 L87.9 458.3 L89.2 458.4 L90.4 458.4 L91.7 458.5 L92.9 458.5 L94.1 458.4 L95.4 458.3 L96.6 458.2 L97.9 458.1 L99.1 457.9 L100.3 457.7 L101.6 457.5 L102.8 457.2 L104.0 457.0 L105.2 456.7 L106.4 456.4 L107.7 456.1 L108.9 455.8 L110.1 455.4 L111.2 454.9 L112.3 454.3 L113.4 453.7 L114.5 453.0 L115.5 452.3 L116.6 451.7 L117.6 451.0 L118.6 450.3 L119.6 449.5 L120.6 448.7 L121.6 447.9 L122.5 447.0 L123.3 446.1 L124.1 445.2 L124.9 444.2 L125.7 443.2 L126.4 442.2 L127.2 441.2 L127.9 440.2 L128.6 439.2 L129.3 438.1 L130.0 437.1 L130.6 436.0 L131.3 434.9 L131.9 433.8 L132.4 432.7 L133.0 431.6 L133.6 430.5 L134.2 429.4 L134.7 428.3 L135.2 427.2 L135.8 426.0 L136.3 424.9 L136.8 423.7 L137.3 422.6 L137.8 421.5 L138.3 420.3 L138.8 419.2 L139.3 418.0 L139.8 416.9 L140.2 415.7 L140.7 414.5 L141.1 413.3 L141.5 412.2 L141.9 411.0 L142.3 409.8 L142.7 408.6 L143.1 407.4 L143.5 406.3 L143.9 405.1 L144.3 403.9 L144.7 402.7 L145.0 401.5 L145.4 400.3 L145.7 399.1 L146.0 397.9 L146.3 396.7 L146.7 395.5 L147.0 394.3 L147.3 393.1 L147.6 391.9 L147.9 390.6 L148.2 389.4 L148.6 388.2 L148.9 387.0 L149.2 385.8 L149.5 384.6 L149.8 383.4 L150.1 382.2 L150.4 381.0 L150.7 379.8 L151.0 378.5 L151.3 377.3 L151.6 376.1 L151.9 374.9 L152.1 373.7 L152.4 372.5 L152.7 371.2 L153.0 370.0 L153.2 368.8 L153.5 367.6 L153.8 366.4 L154.1 365.1 L154.4 363.9 L154.6 362.7 L154.9 361.5 L155.2 360.3 L155.5 359.1 L155.7 357.8 L156.0 356.6 L156.3 355.4 L156.6 354.2 L156.9 353.0 L157.1 351.8 L157.4 350.5 L157.7 349.3 L158.0 348.1 L158.2 346.9 L158.5 345.7 L158.8 344.4 L159.0 343.2 L159.3 342.0 L159.6 340.8 L159.8 339.6 L160.1 338.3 L160.3 337.1 L160.6 335.9 L160.8 334.7 L161.1 333.4 L161.3 332.2 L161.6 331.0 L161.8 329.8 L162.0 328.5 L162.3 327.3 L162.5 326.1 L162.8 324.9 L163.0 323.6 L163.3 322.4 L163.5 321.2 L163.8 320.0 L164.0 318.7 L164.3 317.5 L164.5 316.3 L164.8 315.1 L165.1 313.9 L165.3 312.6 L165.6 311.4 L165.8 310.2 L166.1 309.0 L166.4 307.7 L166.6 306.5 L166.9 305.3 L167.2 304.1 L167.4 302.9 L167.7 301.7 L168.0 300.4 L168.3 299.2 L168.6 298.0 L168.9 296.8 L169.2 295.6 L169.6 294.4 L169.9 293.2 L170.3 292.0 L170.7 290.8 L171.1 289.6 L171.5 288.5 L172.0 287.3 L172.5 286.2 L173.0 285.1 L173.7 284.0 L174.5 283.0 L175.4 282.1 L176.5 281.5 L177.6 280.9 L178.8 280.5 L180.0 280.4 L181.2 280.9 L182.4 281.5 L183.4 282.3 L184.4 283.1 L185.1 284.1 L185.6 285.2 L186.2 286.3 L186.8 287.4 L187.3 288.5 L187.9 289.6 L188.5 290.8 L189.1 291.9 L189.6 293.0 L190.2 294.1 L190.7 295.2 L191.3 296.3 L191.8 297.5 L192.3 298.6 L192.8 299.8 L193.2 300.9 L193.7 302.1 L194.2 303.2 L194.7 304.4 L195.2 305.5 L195.7 306.7 L196.2 307.8 L196.8 308.9 L197.3 310.1 L197.8 311.2 L198.3 312.4 L198.8 313.5 L199.3 314.6 L199.8 315.8 L200.3 316.9 L200.8 318.1 L201.3 319.2 L201.8 320.4 L202.3 321.5 L202.8 322.7 L203.3 323.8 L203.7 325.0 L204.2 326.1 L204.7 327.3 L205.1 328.5 L205.6 329.6 L206.1 330.8 L206.5 331.9 L207.0 333.1 L207.5 334.2 L208.0 335.4 L208.5 336.5 L209.0 337.7 L209.5 338.8 L210.0 339.9 L210.6 341.1 L211.1 342.2 L211.7 343.3 L212.2 344.4 L212.8 345.5 L213.3 346.7 L213.9 347.8 L214.4 348.9 L215.0 350.0 L215.6 351.1 L216.1 352.2 L216.7 353.4 L217.2 354.5 L217.8 355.6 L218.4 356.7 L218.9 357.8 L219.5 359.0 L220.0 360.1 L220.6 361.2 L221.2 362.3 L221.7 363.4 L222.4 364.5 L223.0 365.5 L223.7 366.6 L224.4 367.6 L225.1 368.7 L225.8 369.7 L226.4 370.8 L227.1 371.8 L227.8 372.9 L228.5 373.9 L229.2 375.0 L229.8 376.0 L230.5 377.1 L231.2 378.1 L232.0 379.1 L232.7 380.1 L233.4 381.1 L234.2 382.1 L234.9 383.1 L235.6 384.2 L236.4 385.2 L237.1 386.2 L237.9 387.2 L238.6 388.2 L239.4 389.1 L240.1 390.1 L240.9 391.1 L241.7 392.1 L242.5 393.1 L243.3 394.0 L244.1 395.0 L244.9 396.0 L245.7 396.9 L246.5 397.8 L247.4 398.7 L248.3 399.6 L249.2 400.5 L250.1 401.3 L251.0 402.1 L252.0 402.9 L253.0 403.7 L254.0 404.5 L255.0 405.3 L255.9 406.1 L256.8 407.0 L257.7 407.8 L258.7 408.5 L259.7 409.3 L260.7 410.0 L261.7 410.8 L262.8 411.5 L263.8 412.2 L264.8 412.9 L265.8 413.7 L266.8 414.4 L267.8 415.1 L268.8 415.9 L269.8 416.6 L270.9 417.3 L271.9 418.1 L272.9 418.8 L273.9 419.5 L275.0 420.2 L276.0 420.8 L277.1 421.5 L278.1 422.2 L279.2 422.9 L280.2 423.6 L281.3 424.2 L282.3 424.9 L283.3 425.6 L284.4 426.3 L285.4 427.0 L286.5 427.6 L287.6 428.3 L288.7 428.9 L289.8 429.5 L290.9 430.1 L292.0 430.6 L293.1 431.2 L294.2 431.7 L295.3 432.3 L296.5 432.8 L297.6 433.4 L298.7 433.9 L299.8 434.5 L300.9 435.1 L302.1 435.6 L303.2 436.2 L304.3 436.7 L305.4 437.3 L306.5 437.8 L307.7 438.4 L308.8 438.9 L309.9 439.5 L311.0 440.1 L312.1 440.6 L313.2 441.2 L314.4 441.7 L315.5 442.3 L316.6 442.8 L317.7 443.3 L318.9 443.9 L320.0 444.4 L321.1 444.9 L322.3 445.5 L323.4 446.0 L324.6 446.5 L325.7 447.0 L326.9 447.5 L328.0 447.9 L329.2 448.4 L330.3 448.8 L331.5 449.3 L332.7 449.7 L333.8 450.1 L335.0 450.6 L336.2 451.0 L337.4 451.4 L338.5 451.9 L339.7 452.3 L340.9 452.8 L342.0 453.2 L343.2 453.6 L344.4 454.1 L345.5 454.5 L346.7 454.9 L347.9 455.4 L349.1 455.8 L350.2 456.3 L351.4 456.7 L352.6 457.1 L353.7 457.6 L354.9 458.0 L356.1 458.4 L357.2 458.9 L358.4 459.3 L359.6 459.7 L360.8 460.1 L362.0 460.5 L363.1 460.9 L364.3 461.3 L365.5 461.7 L366.7 462.1 L367.9 462.4 L369.1 462.8 L370.3 463.1 L371.5 463.5" stroke="#f00" stroke-width="2.0" stroke-dasharray="12.7 3.0"/>
<path d="M66.0 454.0 L67.3 454.0 L68.6 454.1 L69.9 454.1 L71.2 454.1 L72.5 454.2 L73.8 454.2 L75.1 454.2 L76.4 454.2 L77.7 454.2 L79.0 454.1 L80.3 454.1 L81.6 454.1 L82.9 454.1 L84.2 454.0 L85.5 454.0 L86.8 453.9 L88.1 453.8 L89.4 453.7 L90.7 453.5 L92.0 453.4 L93.3 453.1 L94.5 452.9 L95.8 452.6 L97.1 452.3 L98.4 452.1 L99.6 451.8 L100.9 451.4 L102.1 451.1 L103.4 450.7 L104.6 450.2 L105.8 449.6 L107.0 449.1 L108.2 448.6 L109.4 448.2 L110.5 447.6 L111.6 446.9 L112.6 446.0 L113.6 445.2 L114.6 444.3 L115.6 443.4 L116.5 442.6 L117.5 441.7 L118.5 440.8 L119.4 439.9 L120.3 439.0 L121.3 438.1 L122.1 437.1 L123.0 436.2 L123.8 435.2 L124.6 434.1 L125.4 433.1 L126.2 432.0 L126.9 430.9 L127.6 429.8 L128.3 428.7 L128.9 427.6 L129.6 426.5 L130.2 425.4 L130.9 424.2 L131.5 423.1 L132.1 422.0 L132.7 420.8 L133.3 419.6 L134.0 418.5 L134.6 417.3 L135.1 416.2 L135.7 415.0 L136.3 413.8 L136.8 412.7 L137.3 411.5 L137.9 410.3 L138.4 409.1 L138.8 407.9 L139.3 406.7 L139.8 405.5 L140.3 404.3 L140.8 403.1 L141.3 401.8 L141.7 400.6 L142.1 399.4 L142.4 398.1 L142.7 396.8 L143.0 395.6 L143.3 394.3 L143.6 393.0 L143.9 391.8 L144.3 390.5 L144.6 389.3 L144.9 388.0 L145.2 386.7 L145.5 385.5 L145.8 384.2 L146.1 382.9 L146.4 381.7 L146.8 380.4 L147.1 379.2 L147.4 377.9 L147.7 376.6 L148.0 375.4 L148.3 374.1 L148.6 372.9 L149.0 371.6 L149.3 370.3 L149.6 369.1 L149.9 367.8 L150.2 366.5 L150.5 365.3 L150.9 364.0 L151.2 362.8 L151.5 361.5 L151.8 360.2 L152.2 359.0 L152.5 357.7 L152.9 356.5 L153.2 355.2 L153.5 354.0 L153.9 352.7 L154.2 351.5 L154.5 350.2 L154.9 348.9 L155.2 347.7 L155.5 346.4 L155.8 345.2 L156.1 343.9 L156.4 342.6 L156.7 341.3 L157.0 340.1 L157.2 338.8 L157.5 337.5 L157.7 336.3 L158.0 335.0 L158.3 333.7 L158.5 332.4 L158.8 331.2 L159.0 329.9 L159.3 328.6 L159.5 327.3 L159.8 326.1 L160.0 324.8 L160.3 323.5 L160.6 322.2 L160.8 321.0 L161.1 319.7 L161.3 318.4 L161.6 317.1 L161.8 315.9 L162.1 314.6 L162.3 313.3 L162.6 312.0 L162.8 310.8 L163.1 309.5 L163.3 308.2 L163.6 306.9 L163.8 305.6 L164.0 304.4 L164.3 303.1 L164.5 301.8 L164.7 300.5 L165.0 299.2 L165.2 298.0 L165.5 296.7 L165.7 295.4 L166.0 294.1 L166.3 292.9 L166.6 291.6 L166.8 290.3 L167.1 289.1 L167.4 287.8 L167.7 286.5 L168.1 285.3 L168.4 284.0 L168.8 282.8 L169.1 281.5 L169.5 280.3 L169.9 279.0 L170.3 277.8 L170.7 276.6 L171.2 275.4 L171.7 274.2 L172.3 273.0 L172.9 271.8 L173.6 270.8 L174.5 269.8 L175.6 269.0 L176.8 268.4 L178.0 268.1 L179.3 268.2 L180.5 268.7 L181.6 269.5 L182.5 270.4 L183.4 271.4 L184.1 272.4 L184.9 273.5 L185.6 274.6 L186.3 275.7 L187.0 276.8 L187.6 278.0 L188.2 279.1 L188.8 280.2 L189.4 281.4 L190.0 282.6 L190.6 283.7 L191.2 284.9 L191.8 286.1 L192.3 287.2 L192.9 288.4 L193.4 289.6 L194.0 290.8 L194.5 291.9 L195.1 293.1 L195.6 294.3 L196.1 295.5 L196.6 296.7 L197.1 297.9 L197.6 299.1 L198.2 300.3 L198.7 301.5 L199.3 302.6 L199.8 303.8 L200.3 305.0 L200.9 306.2 L201.4 307.4 L202.0 308.6 L202.5 309.7 L203.0 310.9 L203.6 312.1 L204.1 313.3 L204.6 314.5 L205.1 315.7 L205.6 316.9 L206.2 318.1 L206.7 319.3 L207.2 320.5 L207.8 321.6 L208.3 322.8 L208.9 324.0 L209.5 325.1 L209.9 326.4 L210.4 327.6 L210.8 328.8 L211.3 330.0 L211.8 331.2 L212.4 332.4 L212.9 333.6 L213.5 334.7 L214.1 335.9 L214.7 337.0 L215.3 338.2 L215.9 339.3 L216.5 340.5 L217.1 341.6 L217.7 342.8 L218.4 343.9 L219.0 345.1 L219.6 346.2 L220.3 347.3 L220.9 348.4 L221.6 349.6 L222.3 350.6 L223.0 351.7 L223.8 352.8 L224.5 353.9 L225.2 355.0 L226.0 356.0 L226.7 357.1 L227.5 358.2 L228.2 359.2 L229.0 360.3 L229.7 361.4 L230.4 362.4 L231.2 363.5 L231.9 364.5 L232.7 365.6 L233.5 366.7 L234.2 367.7 L235.0 368.8 L235.8 369.8 L236.6 370.8 L237.4 371.8 L238.3 372.8 L239.1 373.8 L240.0 374.7 L240.9 375.7 L241.7 376.7 L242.6 377.6 L243.5 378.6 L244.4 379.6 L245.3 380.5 L246.1 381.5 L247.1 382.4 L248.0 383.3 L249.0 384.2 L250.0 385.0 L251.0 385.8 L252.1 386.5 L253.1 387.3 L254.2 388.1 L255.2 388.9 L256.3 389.6 L257.3 390.4 L258.3 391.2 L259.4 392.0 L260.5 392.7 L261.6 393.4 L262.7 394.0 L263.8 394.7 L264.9 395.4 L266.1 396.0 L267.2 396.7 L268.3 397.4 L269.4 398.1 L270.5 398.8 L271.6 399.5 L272.7 400.2 L273.8 400.9 L274.9 401.5 L276.0 402.2 L277.1 402.8 L278.3 403.4 L279.4 404.0 L280.6 404.6 L281.8 405.2 L282.9 405.8 L284.1 406.3 L285.3 406.9 L286.5 407.4 L287.7 408.0 L288.8 408.5 L290.0 409.0 L291.2 409.5 L292.4 410.0 L293.6 410.5 L294.8 411.0 L296.1 411.5 L297.3 411.9 L298.5 412.4 L299.7 412.9 L300.9 413.3 L302.2 413.7 L303.4 414.2 L304.6 414.6 L305.8 415.0 L307.1 415.4 L308.3 415.8 L309.6 416.2 L310.8 416.6 L312.0 417.0 L313.3 417.3 L314.5 417.7 L315.8 418.0 L317.1 418.3 L318.4 418.5 L319.6 418.8 L320.9 419.1 L322.1 419.5 L323.4 419.9 L324.6 420.2 L325.9 420.6 L327.1 421.0 L328.4 421.4 L329.6 421.7 L330.9 422.1 L332.1 422.5 L333.4 422.8 L334.6 423.2 L335.9 423.5 L337.1 423.9 L338.4 424.2 L339.6 424.5 L340.9 424.9 L342.1 425.2 L343.4 425.5 L344.7 425.8 L345.9 426.1 L347.2 426.4 L348.5 426.7 L349.7 427.0 L351.0 427.3 L352.3 427.6 L353.5 427.9 L354.8 428.2 L356.1 428.4 L357.4 428.7 L358.6 428.9 L359.9 429.2 L361.2 429.4 L362.5 429.6 L363.8 429.9 L365.0 430.1 L366.3 430.3 L367.6 430.5 L368.9 430.7 L370.2 430.9 L371.5 431.1 L372.7 431.3 L374.0 431.5 L375.3 431.7 L376.6 431.8 L377.9 432.0" stroke="#f00" stroke-width="2.0"/>
</g>
<g stroke="#000" fill="none" stroke-linecap="butt">
<path d="M66.0 2.6 H379.1" stroke-width="1.2"/>
<path d="M66.0 482.1 H379.1" stroke-width="1.7"/>
<path d="M66.0 241.3 H379.1" stroke-width="2.2"/>
<path d="M66.8 2.0 V483.0" stroke-width="1.6"/>
<path d="M378.2 2.0 V483.0" stroke-width="1.7"/>
<path d="M81.5 2.6 v14.0 M81.5 227.3 v28.0 M81.5 482.1 v-14.0 M118.5 2.6 v7.1 M118.5 234.2 v14.2 M118.5 482.1 v-7.1 M155.5 2.6 v14.0 M155.5 227.3 v28.0 M155.5 482.1 v-14.0 M192.5 2.6 v7.1 M192.5 234.2 v14.2 M192.5 482.1 v-7.1 M229.5 2.6 v14.0 M229.5 227.3 v28.0 M229.5 482.1 v-14.0 M266.5 2.6 v7.1 M266.5 234.2 v14.2 M266.5 482.1 v-7.1 M303.5 2.6 v14.0 M303.5 227.3 v28.0 M303.5 482.1 v-14.0 M340.5 2.6 v7.1 M340.5 234.2 v14.2 M340.5 482.1 v-7.1 M66.8 231.5 h7.1 M378.2 231.5 h-7.1 M66.8 213.5 h14.0 M378.2 213.5 h-14.0 M66.8 194.5 h7.1 M378.2 194.5 h-7.1 M66.8 176.5 h14.0 M378.2 176.5 h-14.0 M66.8 158.5 h7.1 M378.2 158.5 h-7.1 M66.8 139.5 h14.0 M378.2 139.5 h-14.0 M66.8 121.5 h7.1 M378.2 121.5 h-7.1 M66.8 103.5 h14.0 M378.2 103.5 h-14.0 M66.8 84.5 h7.1 M378.2 84.5 h-7.1 M66.8 66.5 h14.0 M378.2 66.5 h-14.0 M66.8 48.5 h7.1 M378.2 48.5 h-7.1 M66.8 29.5 h14.0 M378.2 29.5 h-14.0 M66.8 11.5 h7.1 M378.2 11.5 h-7.1 M66.8 472.5 h7.1 M378.2 472.5 h-7.1 M66.8 454.5 h14.0 M378.2 454.5 h-14.0 M66.8 435.5 h7.1 M378.2 435.5 h-7.1 M66.8 417.5 h14.0 M378.2 417.5 h-14.0 M66.8 398.5 h7.1 M378.2 398.5 h-7.1 M66.8 380.5 h14.0 M378.2 380.5 h-14.0 M66.8 361.5 h7.1 M378.2 361.5 h-7.1 M66.8 343.5 h14.0 M378.2 343.5 h-14.0 M66.8 324.5 h7.1 M378.2 324.5 h-7.1 M66.8 306.5 h14.0 M378.2 306.5 h-14.0 M66.8 287.5 h7.1 M378.2 287.5 h-7.1 M66.8 269.5 h14.0 M378.2 269.5 h-14.0 M66.8 251.5 h7.1 M378.2 251.5 h-7.1" stroke-width="1.1"/>
</g>
<g font-size="19.5" opacity="0.999">
<text x="81.8" y="502" text-anchor="middle">1100</text>
<text x="155.9" y="502" text-anchor="middle">1200</text>
<text x="229.9" y="502" text-anchor="middle">1300</text>
<text x="304.0" y="502" text-anchor="middle">1400</text>
<text x="378.0" y="502" text-anchor="middle">1500</text>
<text x="60.5" y="219.6" text-anchor="end">-0.4</text>
<text x="60.5" y="182.9" text-anchor="end">-0.2</text>
<text x="60.5" y="146.2" text-anchor="end">0</text>
<text x="60.5" y="109.5" text-anchor="end">0.2</text>
<text x="60.5" y="72.8" text-anchor="end">0.4</text>
<text x="60.5" y="36.1" text-anchor="end">0.6</text>
<text x="60.5" y="460.5" text-anchor="end">0</text>
<text x="60.5" y="423.6" text-anchor="end">0.2</text>
<text x="60.5" y="386.7" text-anchor="end">0.4</text>
<text x="60.5" y="349.7" text-anchor="end">0.6</text>
<text x="60.5" y="312.8" text-anchor="end">0.8</text>
<text x="60.5" y="275.9" text-anchor="end">1</text>
<text x="222.5" y="523" text-anchor="middle">z [MeV]</text>
<text transform="translate(14.7,121.8) rotate(-90)" text-anchor="middle">Re P<tspan font-size="13.5" dy="8.3">33</tspan></text>
<text transform="translate(20.2,361.8) rotate(-90)" text-anchor="middle">Im P<tspan font-size="13.5" dy="8.3">33</tspan></text>
</g>
</svg></body></html>
